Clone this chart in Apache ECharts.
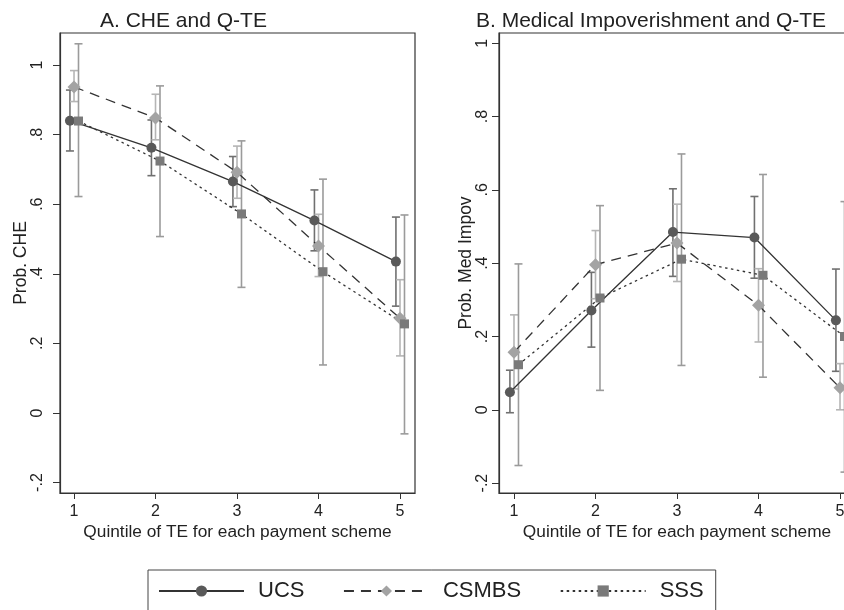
<!DOCTYPE html>
<html>
<head>
<meta charset="utf-8">
<script src="https://cdn.jsdelivr.net/npm/echarts@6/dist/echarts.min.js"></script>
<style>
  html, body { margin: 0; padding: 0; background: #fff; overflow: hidden; }
  #chart { width: 860px; height: 610px; }
</style>
</head>
<body>
<div id="chart"></div>
<script>
// ---- data ----
const quintiles = [1, 2, 3, 4, 5];
const seriesNames = ['UCS', 'CSMBS', 'SSS'];
const yTicks = [-0.2, 0, 0.2, 0.4, 0.6, 0.8, 1];
const xTicks = [1, 2, 3, 4, 5];

// Panel A: CHE
const cheUCS      = [0.840, 0.762, 0.665, 0.553, 0.435];
const cheUCSLo    = [0.753, 0.682, 0.593, 0.466, 0.307];
const cheUCSHi    = [0.928, 0.842, 0.737, 0.641, 0.563];
const cheCSMBS    = [0.937, 0.848, 0.692, 0.480, 0.272];
const cheCSMBSLo  = [0.895, 0.785, 0.617, 0.392, 0.164];
const cheCSMBSHi  = [0.984, 0.916, 0.767, 0.571, 0.383];
const cheSSS      = [0.839, 0.724, 0.572, 0.406, 0.256];
const cheSSSLo    = [0.622, 0.507, 0.361, 0.138, -0.060];
const cheSSSHi    = [1.061, 0.940, 0.782, 0.672, 0.569];

// Panel B: Medical impoverishment
const impUCS      = [0.048, 0.271, 0.485, 0.470, 0.244];
const impUCSLo    = [-0.008, 0.171, 0.364, 0.359, 0.105];
const impUCSHi    = [0.108, 0.375, 0.603, 0.582, 0.384];
const impCSMBS    = [0.157, 0.396, 0.455, 0.285, 0.060];
const impCSMBSLo  = [0.057, 0.303, 0.350, 0.185, 0.000];
const impCSMBSHi  = [0.259, 0.489, 0.561, 0.385, 0.126];
const impSSS      = [0.123, 0.305, 0.411, 0.367, 0.200];
const impSSSLo    = [-0.152, 0.053, 0.121, 0.089, -0.170];
const impSSSHi    = [0.398, 0.557, 0.698, 0.642, 0.568];

// ---- styles ----
const FONT = '"Liberation Sans", Arial, Helvetica, sans-serif';
const TXT = '#222';
const styles = {
  UCS:   { offset: -0.05, lineType: 'solid', symbol: 'circle', size: 10, marker: '#595959', ci: '#707070' },
  CSMBS: { offset: 0.0,  lineType: [10, 7], symbol: 'diamond', size: 13, marker: '#a3a3a3', ci: '#b5b5b5' },
  SSS:   { offset: 0.055, lineType: [2.5, 3.5], symbol: 'rect', size: 9, marker: '#7a7a7a', ci: '#9b9b9b' }
};

function fmt(v) {
  const r = Math.round(v * 10) / 10;
  if (r === 0) return '0';
  if (r === 1) return '1';
  return String(r).replace('0.', '.');
}

function xAxisDef(gridIndex, min, max) {
  return {
    type: 'value', gridIndex, min, max,
    name: 'Quintile of TE for each payment scheme',
    nameLocation: 'middle', nameGap: 31, nameMoveOverlap: false,
    nameTextStyle: { fontFamily: FONT, fontSize: 17.3, color: TXT },
    axisLine: { show: true, onZero: false, lineStyle: { color: '#333', width: 1.2 } },
    axisTick: { show: true, length: 6, customValues: xTicks, lineStyle: { color: '#333' } },
    axisLabel: { customValues: xTicks, margin: 11, fontFamily: FONT, fontSize: 16, color: TXT, formatter: v => String(v) },
    splitLine: { show: false }
  };
}
function yAxisDef(gridIndex, min, max, name, gap, margin) {
  return {
    type: 'value', gridIndex, min, max,
    name, nameLocation: 'middle', nameGap: gap, nameMoveOverlap: false,
    nameTextStyle: { fontFamily: FONT, fontSize: 17.5, color: TXT },
    axisLine: { show: true, onZero: false, lineStyle: { color: '#333', width: 1.2 } },
    axisTick: { show: true, length: 7, customValues: yTicks, lineStyle: { color: '#333' } },
    axisLabel: { customValues: yTicks, rotate: 90, margin, fontFamily: FONT, fontSize: 16, color: TXT, formatter: fmt },
    splitLine: { show: false }
  };
}

function ciRender(color) {
  return function (params, api) {
    const x = api.value(0), lo = api.value(1), hi = api.value(2);
    const a = api.coord([x, lo]), b = api.coord([x, hi]);
    const hw = 4;
    const st = { stroke: color, lineWidth: 1.6 };
    return {
      type: 'group',
      children: [
        { type: 'line', shape: { x1: a[0], y1: a[1], x2: b[0], y2: b[1] }, style: st },
        { type: 'line', shape: { x1: a[0] - hw, y1: a[1], x2: a[0] + hw, y2: a[1] }, style: st },
        { type: 'line', shape: { x1: b[0] - hw, y1: b[1], x2: b[0] + hw, y2: b[1] }, style: st }
      ]
    };
  };
}

function panelSeries(idx, means, los, his) {
  const out = [];
  seriesNames.forEach((nm, k) => {
    const s = styles[nm];
    out.push({
      type: 'custom', name: nm + ' CI', xAxisIndex: idx, yAxisIndex: idx, z: 2,
      renderItem: ciRender(s.ci),
      encode: { x: 0, y: [1, 2] },
      data: quintiles.map((q, i) => [q + s.offset, los[k][i], his[k][i]]),
      silent: true
    });
  });
  seriesNames.forEach((nm, k) => {
    const s = styles[nm];
    out.push({
      type: 'line', name: nm, xAxisIndex: idx, yAxisIndex: idx, z: 3,
      data: quintiles.map((q, i) => [q + s.offset, means[k][i]]),
      symbol: s.symbol, symbolSize: s.size, showSymbol: true,
      lineStyle: { color: '#333', width: 1.3, type: s.lineType },
      itemStyle: { color: s.marker, borderWidth: 0 },
      animation: false
    });
  });
  return out;
}

const chart = echarts.init(document.getElementById('chart'), null, { renderer: 'canvas' });
chart.setOption({
  backgroundColor: '#fff',
  animation: false,
  title: [
    { text: 'A. CHE and Q-TE', left: 95, top: 6, textStyle: { fontFamily: FONT, fontSize: 21, fontWeight: 'normal', color: TXT } },
    { text: 'B. Medical Impoverishment and Q-TE', left: 471, top: 6, textStyle: { fontFamily: FONT, fontSize: 21, fontWeight: 'normal', color: TXT } }
  ],
  grid: [
    { left: 60, right: 445, top: 33, bottom: 117, show: true, borderColor: '#333', borderWidth: 1.2, backgroundColor: 'transparent' },
    { left: 499, right: 5, top: 33, bottom: 117, show: true, borderColor: '#333', borderWidth: 1.2, backgroundColor: 'transparent' }
  ],
  xAxis: [xAxisDef(0, 0.828, 5.184), xAxisDef(1, 0.816, 5.184)],
  yAxis: [
    yAxisDef(0, -0.230, 1.092, 'Prob. CHE', 30, 14),
    yAxisDef(1, -0.227, 1.028, 'Prob. Med Impov', 24, 8)
  ],
  legend: {
    data: seriesNames,
    left: 148, top: 570,
    orient: 'horizontal',
    itemWidth: 85, itemHeight: 14, itemGap: 38.5,
    padding: [10, 12, 30, 10],
    borderColor: '#444', borderWidth: 1,
    textStyle: { fontFamily: FONT, fontSize: 22, color: TXT, padding: [0, 0, 0, 9] },
    selectedMode: false
  },
  series: [
    ...panelSeries(0, [cheUCS, cheCSMBS, cheSSS], [cheUCSLo, cheCSMBSLo, cheSSSLo], [cheUCSHi, cheCSMBSHi, cheSSSHi]),
    ...panelSeries(1, [impUCS, impCSMBS, impSSS], [impUCSLo, impCSMBSLo, impSSSLo], [impUCSHi, impCSMBSHi, impSSSHi])
  ]
});
</script>
</body>
</html>
